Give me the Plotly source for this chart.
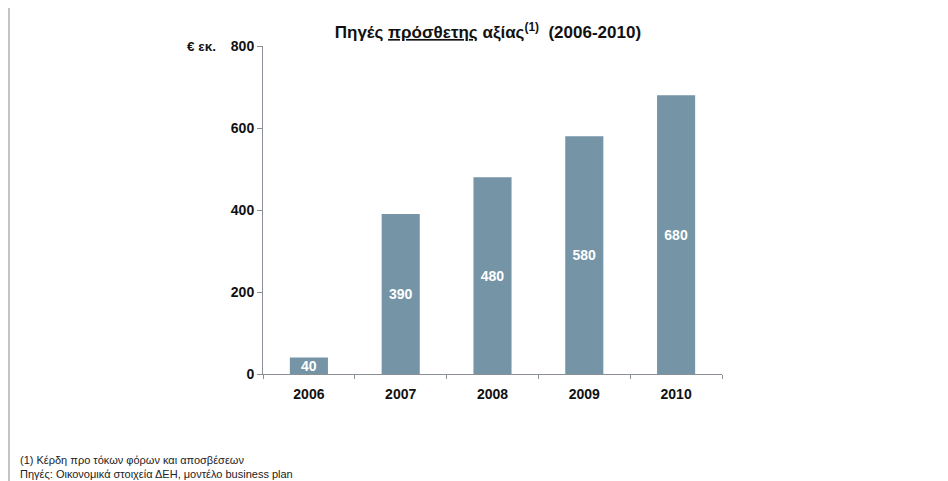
import plotly.graph_objects as go

years = ["2006", "2007", "2008", "2009", "2010"]
values = [40, 390, 480, 580, 680]
y_ticks = [0, 200, 400, 600, 800]

FONT = "Liberation Sans, Arial, sans-serif"

# page is shown with the browser's default 8px body margin, so figure coords = ref - 8
W, H = 940, 473
L, T, R, B = 255, 38, 226, 107
PW, PH = W - L - R, H - T - B


def px(fx):
    return (fx - L) / PW


def py(fy):
    return (H - B - fy) / PH


fig = go.Figure()
fig.add_trace(go.Bar(
    x=years, y=values,
    marker=dict(color="#7595A7", line=dict(width=0)),
    text=[str(v) for v in values],
    textposition="inside", insidetextanchor="middle", textangle=0,
    constraintext="none",
    textfont=dict(family=FONT, size=14, color="white", weight="bold"),
    hoverinfo="skip",
))

fig.update_layout(
    width=W, height=H,
    margin=dict(l=L, r=R, t=T, b=B),
    paper_bgcolor="white", plot_bgcolor="white",
    showlegend=False, bargap=0.585,
    font=dict(family=FONT, color="#111111"),
    title=dict(
        text="<b>Πηγές <u>πρόσθετης</u> αξίας<sup>(1)</sup>  (2006-2010)</b>",
        xref="paper", x=0.49, xanchor="center", y=1 - 24 / H, yanchor="middle",
        font=dict(family=FONT, size=17, color="#111111"),
    ),
    xaxis=dict(
        type="category", showgrid=False, showline=True, linecolor="#8a9096", linewidth=1,
        ticks="outside", tickson="boundaries", ticklen=4, tickcolor="#8a9096",
        ticklabelstandoff=7,
        tickfont=dict(family=FONT, size=14, color="#111111", weight="bold"),
    ),
    yaxis=dict(
        range=[0, 800], tickvals=y_ticks, showgrid=False, zeroline=False,
        showline=True, linecolor="#8a9096", linewidth=1,
        ticks="outside", ticklen=5, tickcolor="#8a9096",
        tickfont=dict(family=FONT, size=14, color="#111111", weight="bold"),
    ),
)

fig.add_annotation(
    text="<b>€ εκ.</b>", xref="paper", yref="paper",
    x=px(210), y=1, xanchor="right", yanchor="middle",
    showarrow=False, font=dict(family=FONT, size=13.5, color="#111111"),
)

fig.add_annotation(
    text="(1) Κέρδη προ τόκων φόρων και αποσβέσεων<br>Πηγές: Οικονομικά στοιχεία ΔΕΗ, μοντέλο business plan",
    xref="paper", yref="paper",
    x=px(10), y=py(444), xanchor="left", yanchor="top",
    align="left", showarrow=False,
    font=dict(family=FONT, size=11, color="#222222"),
)

# left page border
fig.add_shape(type="line", xref="paper", yref="paper",
              x0=px(1), x1=px(1), y0=py(H), y1=py(0),
              line=dict(color="#c4c4c4", width=2))

fig.write_html("out.html")
